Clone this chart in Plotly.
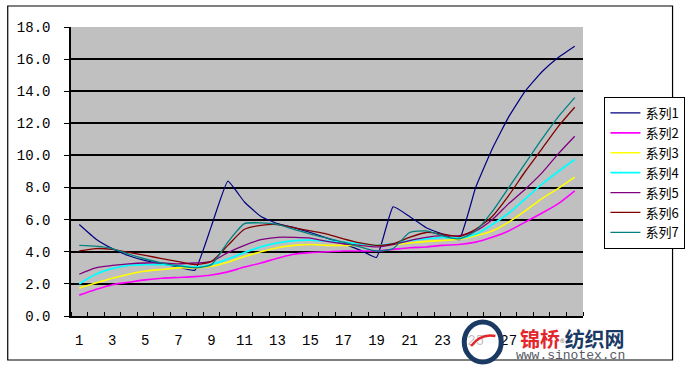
import plotly.graph_objects as go

categories = list(range(1, 32))
tick_labels = [str(c) for c in categories if c % 2 == 1]
series_names = ["系列1", "系列2", "系列3", "系列4", "系列5", "系列6", "系列7"]

s1 = [5.7, 4.8, 4.2, 3.75, 3.45, 3.25, 3.05, 2.85, 5.6, 8.4,
      7.1, 6.2, 5.75, 5.5, 5.2, 4.85, 4.5, 4.1, 3.65, 6.8,
      6.2, 5.5, 5.1, 4.75, 8.0, 10.4, 12.4, 14.0, 15.2, 16.1, 16.8]
s2 = [1.3, 1.65, 1.95, 2.1, 2.25, 2.35, 2.4, 2.45, 2.55, 2.75,
      3.05, 3.3, 3.6, 3.85, 3.95, 4.0, 4.05, 4.05, 4.05, 4.15,
      4.25, 4.3, 4.4, 4.45, 4.6, 4.9, 5.3, 5.85, 6.4, 7.0, 7.8]
s3 = [1.75, 2.05, 2.35, 2.6, 2.8, 2.9, 3.0, 3.0, 3.1, 3.35,
      3.7, 4.0, 4.25, 4.4, 4.45, 4.4, 4.4, 4.4, 4.4, 4.45,
      4.55, 4.65, 4.7, 4.78, 5.0, 5.3, 5.85, 6.55, 7.3, 7.95, 8.65]
s4 = [2.0, 2.6, 2.95, 3.15, 3.2, 3.2, 3.13, 3.05, 3.2, 3.55,
      3.95, 4.3, 4.55, 4.7, 4.72, 4.66, 4.6, 4.5, 4.4, 4.5,
      4.7, 4.8, 4.9, 4.85, 5.1, 5.7, 6.4, 7.3, 8.2, 9.0, 9.75]
s5 = [2.6, 3.0, 3.15, 3.25, 3.3, 3.3, 3.25, 3.3, 3.4, 3.95,
      4.4, 4.75, 4.9, 4.9, 4.85, 4.65, 4.5, 4.4, 4.3, 4.45,
      4.7, 4.9, 5.0, 5.0, 5.3, 6.0, 7.0, 7.9, 8.9, 10.1, 11.2]
s6 = [4.05, 4.2, 4.15, 3.96, 3.77, 3.58, 3.39, 3.2, 3.4, 4.4,
      5.4, 5.65, 5.7, 5.5, 5.3, 5.1, 4.8, 4.55, 4.4, 4.5,
      4.9, 5.2, 5.1, 4.95, 5.4, 6.2, 7.5, 9.0, 10.4, 11.8, 13.0]
s7 = [4.4, 4.35, 4.2, 3.85, 3.55, 3.3, 3.13, 3.0, 3.2, 4.6,
      5.75, 5.8, 5.7, 5.4, 5.1, 4.85, 4.6, 4.3, 4.05, 4.2,
      5.2, 5.3, 5.0, 4.8, 5.3, 6.5, 8.0, 9.5, 11.0, 12.4, 13.6]

series_values = [s1, s2, s3, s4, s5, s6, s7]
colors = ["#000080", "#FF00FF", "#FFFF00", "#00FFFF", "#800080", "#800000", "#008080"]
widths = [1.2, 1.6, 1.6, 1.8, 1.3, 1.3, 1.3]
smooth = [0.35, 0.8, 0.8, 0.8, 0.8, 0.6, 0.6]

fig = go.Figure()
for name, vals, col, w, sm in zip(series_names, series_values, colors, widths, smooth):
    fig.add_trace(go.Scatter(
        x=categories, y=vals, name=name, mode="lines",
        line=dict(color=col, width=w, shape="spline", smoothing=sm),
    ))

W, H = 697, 366
L, R, T, B = 71, 100, 27, 50
pw, ph = W - L - R, H - T - B

def px(xpix):
    return (xpix - L) / pw

def py(ypix):
    return (H - B - ypix) / ph

fig.update_layout(
    width=W, height=H,
    margin=dict(l=L, r=R, t=T, b=B),
    paper_bgcolor="white",
    plot_bgcolor="#C0C0C0",
    font=dict(family="Liberation Mono", size=14, color="black"),
    showlegend=True,
    legend=dict(
        x=px(619), y=py(97), xanchor="left", yanchor="top",
        bgcolor="white", bordercolor="black", borderwidth=1,
        font=dict(family="Noto Sans CJK SC", size=13, color="black"),
        itemwidth=30, tracegroupgap=0,
    ),
    xaxis=dict(
        range=[0.5, 31.5],
        tickvals=[c for c in categories if c % 2 == 1],
        ticktext=tick_labels,
        ticks="",
        showgrid=False, zeroline=False,
        showline=True, linecolor="black", linewidth=1.5,
        ticklabelstandoff=10,
        minor=dict(tick0=0.5, dtick=1, ticks="inside", ticklen=4,
                   tickcolor="black", showgrid=False),
        tickfont=dict(family="Liberation Mono", size=14),
    ),
    yaxis=dict(
        range=[0, 18], dtick=2, tickformat=".1f",
        ticks="outside", ticklen=5, tickcolor="black",
        showgrid=True, gridcolor="black", gridwidth=1.5,
        zeroline=False,
        showline=True, linecolor="black", linewidth=1.5,
        ticklabelstandoff=11,
        tickfont=dict(family="Liberation Mono", size=14),
    ),
    shapes=[
        dict(type="rect", xref="paper", yref="paper",
             x0=px(6), x1=px(689), y0=py(360), y1=py(6),
             line=dict(color="black", width=1.2), fillcolor="rgba(0,0,0,0)",
             layer="below"),
        dict(type="circle", xref="paper", yref="paper",
             x0=px(475), x1=px(513), y0=py(362), y1=py(322),
             line=dict(color="#1B3A63", width=5),
             fillcolor="rgba(255,255,255,0.75)", layer="above"),
        dict(type="path", xref="paper", yref="paper",
             path=f"M {px(482)} {py(346)} Q {px(492)} {py(333)} {px(507)} {py(336)}",
             line=dict(color="#E3262B", width=2.5), layer="above"),
    ],
    annotations=[
        dict(xref="paper", yref="paper", x=px(586), y=py(338),
             xanchor="center", yanchor="middle", showarrow=False,
             bgcolor="white", borderpad=1,
             text="<b><span style='color:#E3262B'>锦桥</span><span style='font-size:9px;color:#999'>®</span><span style='color:#1B3A63'>纺织网</span></b>",
             font=dict(family="Noto Sans CJK SC", size=20)),
        dict(xref="paper", yref="paper", x=px(584), y=py(355),
             xanchor="center", yanchor="middle", showarrow=False,
             text="www.sinotex.cn",
             font=dict(family="Liberation Mono", size=13, color="#555a66")),
    ],
)

fig.write_html("out.html")
